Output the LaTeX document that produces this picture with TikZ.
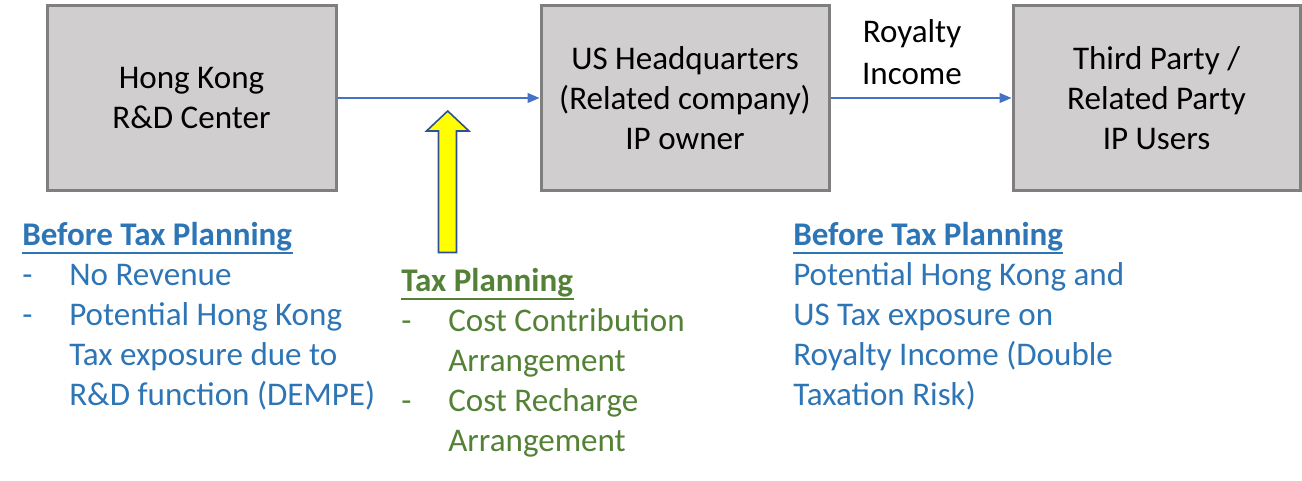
\documentclass[tikz,border=0pt]{standalone}
\usepackage{fontspec}
\setmainfont{Carlito}
\usetikzlibrary{arrows.meta}
\definecolor{boxfill}{HTML}{D0CECE}
\definecolor{boxdraw}{HTML}{7F7F7F}
\definecolor{lineblue}{HTML}{4472C4}
\definecolor{txtblue}{HTML}{2E75B6}
\definecolor{txtgreen}{HTML}{538135}
\definecolor{arrowedge}{HTML}{2F528F}
\definecolor{arrowfill}{HTML}{FFFF00}
\begin{document}
\begin{tikzpicture}[x=0.75pt,y=-0.75pt,
  box/.style={draw=boxdraw, line width=2.25pt, fill=boxfill, minimum height=138pt,
    align=center, inner sep=0pt, font=\fontsize{24.8}{30}\selectfont},
  conn/.style={draw=lineblue, line width=0.9pt, -{Triangle[length=9pt,width=7.5pt]}},
  lbl/.style={align=center, inner sep=0pt, font=\fontsize{24.8}{31}\selectfont},
  bline/.style={anchor=base west, inner sep=0pt, font=\fontsize{24.8}{30}\selectfont},
  bhead/.style={bline, font=\fontsize{24.8}{30}\selectfont\bfseries},
  uline/.style={line width=0.9pt}
]
\useasboundingbox (0,0) rectangle (1302,481);
% boxes
\node[box, minimum width=216.75pt] (hk) at (191.5,98) {Hong Kong\\R\&D Center};
\node[box, minimum width=216pt] (us) at (685,98) {US Headquarters\\(Related company)\\IP owner};
\node[box, minimum width=215.25pt] (tp) at (1156.5,98) {Third Party /\\Related Party\\IP Users};
% connectors
\draw[conn] (hk.east) -- (us.west);
\draw[conn] (us.east) -- (tp.west);
\node[lbl] (roy) at (912,52) {Royalty\\Income};
% yellow arrow
\draw[draw=arrowedge, fill=arrowfill, line width=1.2pt, line join=miter]
  (438.5,252.5) -- (438.5,131) -- (426.5,131) -- (447.7,111) -- (469,131)
  -- (456.5,131) -- (456.5,252.5) -- cycle;
% left block
\node[bhead, text=txtblue] (lh) at (22,245) {Before Tax Planning};
\draw[uline, txtblue] (22,253) -- (293,253);
\node[bline, text=txtblue] (ld1) at (22,285) {-};
\node[bline, text=txtblue] (l1) at (69,285) {No Revenue};
\node[bline, text=txtblue] (ld2) at (22,325) {-};
\node[bline, text=txtblue] (l2) at (69,325) {Potential Hong Kong};
\node[bline, text=txtblue] (l3) at (69,365) {Tax exposure due to};
\node[bline, text=txtblue] (l4) at (69,405) {R\&D function (DEMPE)};
% middle block
\node[bhead, text=txtgreen] (mh) at (401,291) {Tax Planning};
\draw[uline, txtgreen] (401,299) -- (574,299);
\node[bline, text=txtgreen] (md1) at (401,331) {-};
\node[bline, text=txtgreen] (m1) at (448,331) {Cost Contribution};
\node[bline, text=txtgreen] (m2) at (448,371) {Arrangement};
\node[bline, text=txtgreen] (md2) at (401,411) {-};
\node[bline, text=txtgreen] (m3) at (448,411) {Cost Recharge};
\node[bline, text=txtgreen] (m4) at (448,451) {Arrangement};
% right block
\node[bhead, text=txtblue] (rh) at (793,245) {Before Tax Planning};
\draw[uline, txtblue] (793,253) -- (1063,253);
\node[bline, text=txtblue] (r1) at (793,285) {Potential Hong Kong and};
\node[bline, text=txtblue] (r2) at (793,325) {US Tax exposure on};
\node[bline, text=txtblue] (r3) at (793,365) {Royalty Income (Double};
\node[bline, text=txtblue] (r4) at (793,405) {Taxation Risk)};
\end{tikzpicture}
\end{document}
